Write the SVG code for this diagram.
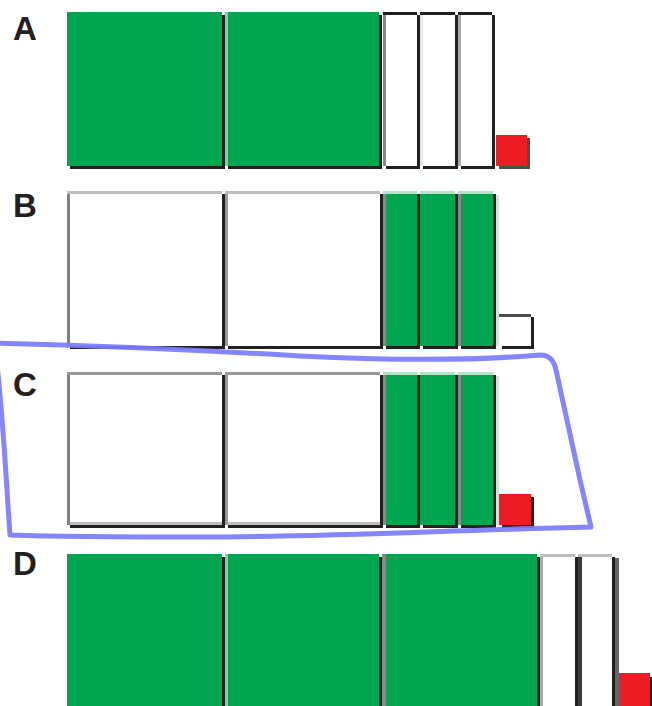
<svg xmlns="http://www.w3.org/2000/svg" width="652" height="706" viewBox="0 0 652 706">
<style>
.sh{fill:#231f20}
.g{fill:#00a54f}
.w{fill:#ffffff}
.r{fill:#ed1c24}
.lbl{font-family:"Liberation Sans",Arial,sans-serif;font-weight:bold;font-size:33px;fill:#231f20}
.lg{fill:#7fd1a7}
.tg{fill:#b3e3c9}
.gr{fill:#888888}
.lt{fill:#bebebe}
.dk{fill:#231f20}
</style>
<rect width="652" height="706" fill="#ffffff"/>
<g id="labels">
<text class="lbl" x="13" y="40">A</text>
<text class="lbl" x="13" y="217">B</text>
<text class="lbl" x="13" y="396">C</text>
<text class="lbl" x="13" y="575">D</text>
</g>
<g id="rowA">
<g id="A1"><rect class="sh" x="70" y="15" width="155" height="154"/><rect class="g" x="67" y="12" width="155" height="154"/></g>
<g id="A2"><rect class="sh" x="228" y="15" width="154" height="154"/><rect class="g" x="225" y="12" width="154" height="154"/><rect class="lg" x="225" y="12" width="3" height="154"/></g>
<g id="A3"><rect class="sh" x="386" y="15" width="34" height="154"/><rect class="w" x="383" y="12" width="34" height="154"/><rect class="gr" x="383" y="12" width="3" height="154"/><rect class="dk" x="383" y="12" width="34" height="3"/></g>
<g id="A4"><rect class="sh" x="423" y="15" width="35" height="154"/><rect class="w" x="420" y="12" width="35" height="154"/><rect fill="#e8e8e8" x="420" y="12" width="3" height="154"/><rect class="dk" x="420" y="12" width="35" height="3"/></g>
<g id="A5"><rect class="sh" x="461" y="15" width="34" height="154"/><rect class="w" x="458" y="12" width="34" height="154"/><rect fill="#aaaaaa" x="458" y="12" width="3" height="154"/><rect class="dk" x="458" y="12" width="34" height="3"/></g>
<g id="A6"><rect fill="#4d4d4d" x="499" y="138" width="31" height="31"/><rect class="r" x="496" y="135" width="31" height="31"/></g>
</g>
<g id="rowB">
<g id="B1"><rect class="sh" x="70" y="194" width="155" height="155"/><rect class="w" x="67" y="191" width="155" height="155"/><rect fill="#808080" x="67" y="191" width="3" height="155"/><rect class="lt" x="67" y="191" width="155" height="3"/></g>
<g id="B2"><rect class="sh" x="228" y="194" width="155" height="155"/><rect class="w" x="225" y="191" width="155" height="155"/><rect fill="#999999" x="225" y="191" width="3" height="155"/><rect class="lt" x="225" y="191" width="155" height="3"/></g>
<g id="B3"><rect class="sh" x="386" y="194" width="34" height="155"/><rect class="g" x="383" y="191" width="34" height="155"/><rect class="gr" x="383" y="191" width="3" height="155"/><rect class="tg" x="383" y="191" width="34" height="3"/></g>
<g id="B4"><rect class="sh" x="423" y="194" width="35" height="155"/><rect class="g" x="420" y="191" width="35" height="155"/><rect class="tg" x="420" y="191" width="35" height="3"/></g>
<g id="B5"><rect class="sh" x="461" y="194" width="35" height="155"/><rect class="g" x="458" y="191" width="35" height="155"/><rect class="gr" x="458" y="191" width="3" height="155"/><rect class="tg" x="458" y="191" width="35" height="3"/><rect fill="#dddddd" x="496" y="195" width="3" height="151"/></g>
<g id="B6"><rect class="sh" x="502" y="317" width="32" height="32"/><rect class="w" x="499" y="314" width="32" height="32"/><rect fill="#4d4d4d" x="499" y="314" width="32" height="3"/></g>
</g>
<g id="rowC">
<g id="C1"><rect class="sh" x="70" y="375" width="155" height="153"/><rect class="w" x="67" y="372" width="155" height="153"/><rect fill="#808080" x="67" y="372" width="3" height="153"/><rect fill="#999999" x="67" y="372" width="155" height="3"/><rect class="lt" x="70" y="522" width="152" height="3"/></g>
<g id="C2"><rect class="sh" x="228" y="375" width="155" height="153"/><rect class="w" x="225" y="372" width="155" height="153"/><rect fill="#999999" x="225" y="372" width="3" height="153"/><rect fill="#999999" x="225" y="372" width="155" height="3"/><rect class="lt" x="228" y="522" width="152" height="3"/></g>
<g id="C3"><rect class="sh" x="386" y="375" width="34" height="153"/><rect class="g" x="383" y="372" width="34" height="153"/><rect class="gr" x="383" y="372" width="3" height="153"/><rect class="tg" x="383" y="372" width="34" height="3"/></g>
<g id="C4"><rect class="sh" x="423" y="375" width="35" height="153"/><rect class="g" x="420" y="372" width="35" height="153"/><rect class="tg" x="420" y="372" width="35" height="3"/></g>
<g id="C5"><rect class="sh" x="461" y="375" width="35" height="153"/><rect class="g" x="458" y="372" width="35" height="153"/><rect class="gr" x="458" y="372" width="3" height="153"/><rect class="tg" x="458" y="372" width="35" height="3"/><rect fill="#dddddd" x="496" y="376" width="3" height="149"/></g>
<g id="C6"><rect class="sh" x="502" y="497" width="32" height="31"/><rect class="r" x="499" y="494" width="32" height="31"/></g>
</g>
<g id="rowD">
<g id="D1"><rect class="sh" x="70" y="557" width="155" height="155"/><rect class="g" x="67" y="554" width="155" height="155"/></g>
<g id="D2"><rect class="sh" x="228" y="557" width="155" height="155"/><rect class="g" x="225" y="554" width="154" height="155"/><rect class="lg" x="225" y="554" width="3" height="155"/></g>
<g id="D3"><rect class="sh" x="386" y="557" width="154" height="155"/><rect class="g" x="383" y="554" width="154" height="155"/><rect class="gr" x="382" y="554" width="4" height="155"/></g>
<g id="D4"><rect class="sh" x="543" y="557" width="35" height="155"/><rect class="w" x="540" y="554" width="35" height="155"/><rect fill="#aaaaaa" x="540" y="554" width="3" height="155"/><rect class="lt" x="540" y="554" width="35" height="3"/></g>
<g id="D5"><rect class="sh" x="581" y="557" width="34" height="155"/><rect class="w" x="578" y="554" width="34" height="155"/><rect fill="#3d3a3a" x="578" y="554" width="4" height="155"/><rect class="lt" x="578" y="554" width="34" height="3"/><rect fill="#666666" x="615" y="558" width="4" height="151"/></g>
<g id="D6"><rect class="sh" x="622" y="677" width="31" height="33"/><rect class="r" x="619" y="673" width="31" height="33"/></g>
</g>
<g id="connectors">
<path d="M -6,343 C 80,345 200,350 300,356 C 380,360 470,361 540,355 Q 553,355 556,370 L 580,480 L 591,527 C 450,530 330,537 200,537 C 110,537 40,536 10,535 C 6,480 4,430 -3,365" fill="none" stroke="#7b7bff" stroke-width="5" stroke-linejoin="round" stroke-linecap="round" opacity="0.92"/>
</g>
</svg>
